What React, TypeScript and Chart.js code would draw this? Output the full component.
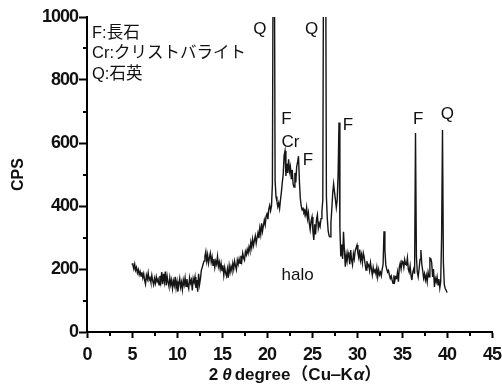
import React, { useEffect, useRef } from "react";
import { Chart, registerables } from "chart.js";

Chart.register(...registerables);

// 2θ sampling: start 5.0°, step 0.1°
const TWO_THETA_START = 5.0;
const TWO_THETA_STEP = 0.1;

// CPS intensities, 5.0° .. 40.0° (rows of 1°)
const cps: number[] = [
  218, 212, 200, 215, 196, 205, 188, 198, 182, 192, // 5
  178, 190, 172, 185, 165, 152, 180, 168, 188, 165, // 6
  172, 158, 180, 162, 150, 170, 155, 175, 160, 168, // 7
  150, 178, 158, 190, 152, 185, 160, 192, 148, 178, // 8
  158, 145, 172, 150, 165, 138, 162, 148, 175, 140, // 9
  160, 128, 152, 170, 142, 158, 135, 165, 150, 172, // 10
  145, 168, 150, 138, 172, 155, 165, 132, 170, 158, // 11
  175, 140, 165, 128, 185, 150, 168, 195, 205, 215, // 12
  225, 240, 255, 225, 245, 218, 235, 250, 222, 238, // 13
  212, 232, 205, 225, 215, 240, 208, 222, 200, 218, // 14
  195, 212, 180, 205, 188, 178, 200, 172, 210, 190, // 15
  208, 195, 218, 200, 225, 210, 198, 228, 215, 232, // 16
  218, 242, 225, 250, 235, 228, 255, 245, 262, 250, // 17
  270, 258, 285, 268, 295, 275, 290, 305, 282, 300, // 18
  315, 298, 330, 310, 345, 320, 338, 355, 340, 368, // 19
  375, 358, 390, 402, 385, 400, 470, 1400, 1400, 480, // 20
  430, 415, 398, 410, 392, 420, 445, 475, 500, 560, // 21
  575, 495, 535, 505, 548, 510, 525, 485, 515, 470, // 22
  460, 505, 475, 525, 540, 558, 480, 425, 400, 388, // 23
  392, 380, 385, 372, 395, 360, 378, 345, 325, 352, // 24
  365, 320, 292, 342, 310, 358, 372, 330, 345, 335, // 25
  360, 382, 420, 1400, 1400, 1400, 430, 360, 320, 305, // 26
  302, 345, 390, 440, 470, 445, 420, 395, 420, 500, // 27
  665, 330, 240, 278, 232, 318, 260, 207, 245, 225, // 28
  252, 238, 215, 260, 228, 213, 248, 232, 258, 267, // 29
  276, 250, 235, 262, 228, 245, 220, 251, 238, 215, // 30
  197, 225, 208, 213, 195, 220, 200, 181, 205, 190, // 31
  197, 185, 205, 175, 198, 182, 190, 178, 200, 215, // 32
  320, 260, 213, 200, 190, 195, 181, 170, 178, 165, // 33
  155, 180, 162, 175, 171, 190, 160, 205, 218, 200, // 34
  225, 222, 205, 230, 215, 213, 235, 200, 190, 210, // 35
  180, 165, 190, 200, 185, 632, 240, 190, 175, 200, // 36
  230, 260, 215, 195, 171, 185, 165, 180, 159, 190, // 37
  175, 235, 233, 220, 175, 200, 143, 170, 159, 175, // 38
  150, 168, 140, 160, 300, 641, 220, 150, 138, 133, // 39
  125, // 40
];

// Axis ticks
const xMajorTicks = [0, 5, 10, 15, 20, 25, 30, 35, 40, 45];
const xMinorTicks = [2.5, 7.5, 12.5, 17.5, 22.5, 27.5, 32.5, 37.5, 42.5];
const yMajorTicks = [0, 200, 400, 600, 800, 1000];
const yMinorTicks = [100, 300, 500, 700, 900];

// Peak labels (data coordinates)
const peakLabels = ["Q", "Q", "F", "Cr", "F", "F", "F", "Q", "halo"];
const peakLabelX = [19.2, 24.97, 22.17, 22.6, 24.55, 29.0, 36.8, 40.05, 23.4];
const peakLabelY = [962, 962, 675, 602, 546, 657, 676, 690, 181];

// Legend (key) text
const keyLines = ["F:長石", "Cr:クリストバライト", "Q:石英"];

const yTitle = "CPS";
const xTitleParts: [string, boolean, number][] = [
  ["2", false, 4],
  ["θ", true, 3],
  ["degree", false, 1],
  ["（Cu", false, 0],
  ["‒", false, 0],
  ["K", false, 1],
  ["α", true, 0],
  ["）", false, 0],
];

const FONT_FAMILY = "'Liberation Sans', Arial, 'Noto Sans CJK JP', sans-serif";

export default function App() {
  const canvasRef = useRef<HTMLCanvasElement | null>(null);

  useEffect(() => {
    const canvas = canvasRef.current;
    if (!canvas) return;

    const points = cps.map((v, i) => ({
      x: +(TWO_THETA_START + i * TWO_THETA_STEP).toFixed(2),
      y: v,
    }));

    const decorPlugin = {
      id: "decor",
      beforeDraw(chart: any) {
        (chart.ctx as any).letterSpacing = "-1px";
      },
      afterDraw(chart: any) {
        const ctx = chart.ctx as CanvasRenderingContext2D;
        (ctx as any).letterSpacing = "0px";
        const xs = chart.scales.x;
        const ys = chart.scales.y;
        const area = chart.chartArea;
        ctx.save();
        // minor ticks
        ctx.strokeStyle = "#000";
        ctx.lineWidth = 2;
        ctx.beginPath();
        xMinorTicks.forEach((v) => {
          const px = Math.round(xs.getPixelForValue(v));
          ctx.moveTo(px, area.bottom);
          ctx.lineTo(px, area.bottom + 4);
        });
        yMinorTicks.forEach((v) => {
          const py = Math.round(ys.getPixelForValue(v));
          ctx.moveTo(area.left, py);
          ctx.lineTo(area.left - 4, py);
        });
        ctx.stroke();

        // peak labels
        ctx.fillStyle = "#111";
        ctx.textAlign = "center";
        ctx.textBaseline = "middle";
        ctx.font = `17px ${FONT_FAMILY}`;
        peakLabels.forEach((t, i) => {
          ctx.fillText(t, xs.getPixelForValue(peakLabelX[i]), ys.getPixelForValue(peakLabelY[i]));
        });

        // key text
        ctx.textAlign = "left";
        ctx.font = `16.5px ${FONT_FAMILY}`;
        keyLines.forEach((t, i) => {
          ctx.fillText(t, area.left + 5, area.top + 16 + i * 20.5);
        });

        // y title
        ctx.save();
        ctx.font = `bold 16px ${FONT_FAMILY}`;
        ctx.textAlign = "center";
        ctx.translate(19, (area.top + area.bottom) / 2);
        ctx.rotate(-Math.PI / 2);
        ctx.fillText(yTitle, 0, 0);
        ctx.restore();

        // x title
        const fonts = xTitleParts.map(([, it]) =>
          it ? `italic bold 17px ${FONT_FAMILY}` : `bold 17px ${FONT_FAMILY}`
        );
        let total = 0;
        const widths = xTitleParts.map(([t, , g], i) => {
          ctx.font = fonts[i];
          const w = ctx.measureText(t).width;
          total += w + g;
          return w;
        });
        let cx = 295 - total / 2;
        const ty = 375;
        xTitleParts.forEach(([t, , g], i) => {
          ctx.font = fonts[i];
          ctx.textAlign = "left";
          ctx.fillText(t, cx, ty);
          cx += widths[i] + g;
        });
        ctx.restore();
      },
    };

    const tickFont = { family: FONT_FAMILY, size: 18, weight: "bold" };

    const chart = new Chart(canvas, {
      type: "line",
      data: {
        datasets: [
          {
            data: points,
            borderColor: "#151515",
            borderWidth: 1.4,
            pointRadius: 0,
            tension: 0,
            fill: false,
          },
        ],
      },
      options: {
        responsive: false,
        animation: false,
        devicePixelRatio: 1,
        layout: { padding: { left: 0, right: 10, top: 17, bottom: 0 } },
        plugins: {
          legend: { display: false },
          tooltip: { enabled: false },
        },
        scales: {
          x: {
            type: "linear",
            min: 0,
            max: 45,
            afterFit: (s: any) => {
              s.height = 53;
              s.paddingLeft = 0;
              s.paddingRight = 0;
            },
            afterBuildTicks: (s: any) => {
              s.ticks = xMajorTicks.map((v) => ({ value: v }));
            },
            ticks: {
              color: "#111",
              padding: 6,
              font: tickFont,
              maxRotation: 0,
              autoSkip: false,
              callback: (v: any) => String(v),
            },
            grid: {
              display: true,
              drawOnChartArea: false,
              drawTicks: true,
              tickLength: 6,
              tickWidth: 2,
              color: "#000",
            },
            border: { display: true, color: "#000", width: 2 },
          },
          y: {
            type: "linear",
            min: 0,
            max: 1000,
            afterFit: (s: any) => {
              s.width = 87;
              s.paddingTop = 0;
              s.paddingBottom = 0;
            },
            afterBuildTicks: (s: any) => {
              s.ticks = yMajorTicks.map((v) => ({ value: v }));
            },
            ticks: {
              color: "#111",
              padding: 1,
              font: tickFont,
              autoSkip: false,
              callback: (v: any) => String(v),
            },
            grid: {
              display: true,
              drawOnChartArea: false,
              drawTicks: true,
              tickLength: 8,
              tickWidth: 2,
              color: "#000",
            },
            border: { display: true, color: "#000", width: 2 },
          },
        },
      },
      plugins: [decorPlugin],
    } as any);

    return () => chart.destroy();
  }, []);

  return (
    <div style={{ position: "absolute", left: 0, top: 0, width: 502, height: 385, background: "#fff" }}>
      <canvas ref={canvasRef} width={502} height={385} style={{ width: 502, height: 385 }} />
    </div>
  );
}
